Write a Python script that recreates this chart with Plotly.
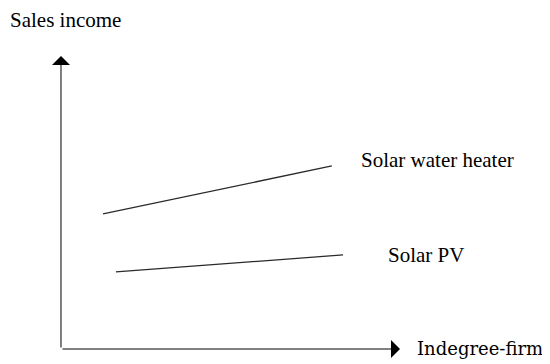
import plotly.graph_objects as go

# schematic values (arbitrary units)
swh_x = [1.24, 7.99]
swh_y = [4.61, 6.25]
pv_x = [1.62, 8.32]
pv_y = [2.63, 3.21]

x_axis_end = 10.0
y_axis_end = 10.0

labels = ["Sales income", "Solar water heater", "Solar PV", "Indegree-firm"]
label_x = [-1.56, 8.79, 9.59, 10.44]
label_y = [11.22, 6.45, 3.21, 0.03]
label_font = ["Liberation Serif", "Liberation Serif", "Liberation Serif", "DejaVu Serif"]
label_size = [21, 21, 21, 18]

fig = go.Figure()

fig.add_trace(go.Scatter(x=swh_x, y=swh_y, mode="lines",
                         line=dict(color="#2a2a2a", width=1.3), showlegend=False))
fig.add_trace(go.Scatter(x=pv_x, y=pv_y, mode="lines",
                         line=dict(color="#2a2a2a", width=1.3), showlegend=False))

# axes drawn as arrows
for tip_x, tip_y in [(x_axis_end, 0), (0, y_axis_end)]:
    fig.add_annotation(x=tip_x, y=tip_y, ax=0, ay=0, xref="x", yref="y",
                       axref="x", ayref="y", text="", showarrow=True,
                       arrowhead=1, arrowsize=3, arrowwidth=1, arrowcolor="black")

for txt, lx, ly, fam, sz in zip(labels, label_x, label_y, label_font, label_size):
    fig.add_annotation(x=lx, y=ly, text=txt, showarrow=False, xanchor="left",
                       yanchor="middle",
                       font=dict(family=fam, size=sz, color="black"))

# page body has an 8px margin, so the figure is a bit smaller than the window
fig.update_xaxes(range=[-1.563, 14.425], visible=False)
fig.update_yaxes(range=[-0.512, 11.638], visible=False)
fig.update_layout(width=542, height=356, margin=dict(l=0, r=0, t=0, b=0),
                  plot_bgcolor="white", paper_bgcolor="white")

fig.write_html("out.html")
